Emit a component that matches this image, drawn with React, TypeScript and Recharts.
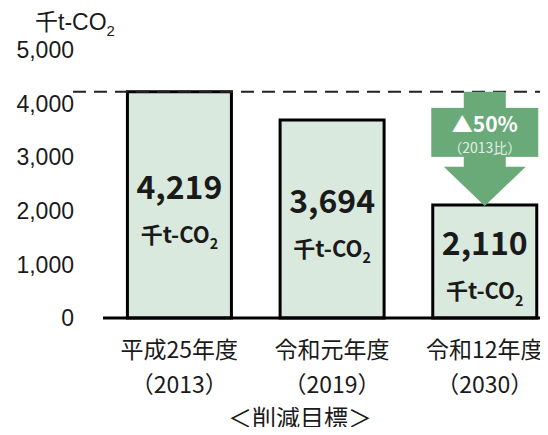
import { Bar, BarChart, LabelList, ReferenceLine, XAxis, YAxis } from 'recharts';

const CATEGORIES = ['平成25年度', '令和元年度', '令和12年度'];
const YEARS = ['（2013）', '（2019）', '（2030）'];
const EMISSIONS = [4219, 3694, 2110];
const Y_TICKS = [0, 1000, 2000, 3000, 4000, 5000];
const UNIT = '千t-CO';
const UNIT_SUB = '2';
const REDUCTION = '▲50%';
const REDUCTION_NOTE = '（2013比）';
const AXIS_TITLE = '＜削減目標＞';

const data = CATEGORIES.map((name, i) => ({ name, year: YEARS[i], value: EMISSIONS[i] }));

const INK = '#1a1a1a';
const BAR_FILL = '#d9e9dd';
const ARROW = '#6aaa79';
const JP = '"Noto Sans CJK JP", sans-serif';
const LATIN = '"Liberation Sans", "Noto Sans CJK JP", sans-serif';

function Unit({ x, y, size, bold, anchor }: { x: number; y: number; size: number; bold?: boolean; anchor?: string }) {
  return (
    <text x={x} y={y} textAnchor={anchor ?? 'middle'} fill={INK} fontFamily={bold ? JP : LATIN} fontWeight={bold ? 700 : 400} fontSize={size}>
      <tspan>{UNIT}</tspan>
      <tspan fontSize={size * 0.65} dy={size * 0.28}>{UNIT_SUB}</tspan>
    </text>
  );
}

function BarLabel(props: any) {
  const vb = props.viewBox ?? {};
  const x = props.x ?? vb.x;
  const y = props.y ?? vb.y;
  const width = props.width ?? vb.width;
  const height = props.height ?? vb.height;
  const value = Number(props.value);
  const index = props.index;
  const cx = x + width / 2;
  const mid = y + height / 2;

  let arrow = null;
  if (index === EMISSIONS.length - 1) {
    // arrow from the 2013 level down to the target bar
    const perUnit = height / value;
    const yRef = y + height - EMISSIONS[0] * perUnit;
    const stem = 21;
    const box = 53.5;
    const head = 41;
    const boxTop = yRef + 16;
    const boxBottom = yRef + 65;
    const headTop = yRef + 75;
    const tip = y + 1;
    const pts = [
      [cx - stem, yRef], [cx + stem, yRef], [cx + stem, headTop], [cx + head, headTop],
      [cx, tip], [cx - head, headTop], [cx - stem, headTop],
    ].map((p) => p.join(',')).join(' ');
    arrow = (
      <g>
        <polygon points={pts} fill={ARROW} />
        <rect x={cx - box} y={boxTop} width={box * 2} height={boxBottom - boxTop} fill={ARROW} />
        <text x={cx} y={boxTop + 24} textAnchor="middle" fill="#fff" fontFamily={JP} fontWeight={700} fontSize={21}>{REDUCTION}</text>
        <text x={cx} y={boxTop + 45} textAnchor="middle" fill="#e4efe6" fontFamily={JP} fontWeight={400} fontSize={14}>{REDUCTION_NOTE}</text>
      </g>
    );
  }

  return (
    <g>
      {arrow}
      <text x={cx} y={mid - 6} textAnchor="middle" fill={INK} fontFamily={JP} fontWeight={700} fontSize={32}>
        {value.toLocaleString('en-US')}
      </text>
      <Unit x={cx} y={mid + 38} size={22} bold />
    </g>
  );
}

function CategoryTick(props: any) {
  const { x, y, payload } = props;
  const i = CATEGORIES.indexOf(payload.value);
  return (
    <g>
      <text x={x} y={y + 38} textAnchor="middle" fill={INK} fontFamily={JP} fontSize={23}>{payload.value}</text>
      <text x={x} y={y + 73} textAnchor="middle" fill={INK} fontFamily={JP} fontSize={23}>{YEARS[i]}</text>
    </g>
  );
}

function BaseLine(props: any) {
  const { x1, y1, x2, y2 } = props;
  return <line x1={x1 - 30} y1={y1} x2={x2} y2={y2} stroke="#222" strokeWidth={2} strokeDasharray="13 8" />;
}

export default function App() {
  return (
    <div style={{ margin: -8, width: 548, height: 435, overflow: 'hidden', position: 'relative', background: '#fff' }}>
      <BarChart width={561} height={435} data={data} margin={{ top: 50, right: 0, bottom: 0, left: 0 }} barCategoryGap="16%">
        <YAxis
          width={103}
          domain={[0, 5000]}
          ticks={Y_TICKS}
          interval={0}
          tickFormatter={(v: number) => v.toLocaleString('en-US')}
          tick={{ fill: INK, fontSize: 23, fontFamily: LATIN }}
          tickSize={0}
          tickMargin={29}
          axisLine={false}
          label={{ content: (p: any) => <Unit x={35} y={(p.viewBox?.y ?? 50) - 20} size={23} anchor="start" /> }}
        />
        <XAxis
          dataKey="name"
          height={117}
          interval={0}
          tick={<CategoryTick />}
          tickSize={0}
          tickLine={false}
          axisLine={{ stroke: '#000', strokeWidth: 3 }}
          label={{
            content: (p: any) => (
              <text x={(p.viewBox?.x ?? 103) + 197} y={(p.viewBox?.y ?? 318) + 109} textAnchor="middle" fill={INK} fontFamily={JP} fontSize={24}>
                {AXIS_TITLE}
              </text>
            ),
          }}
        />
        <Bar dataKey="value" fill={BAR_FILL} stroke="#000" strokeWidth={3} isAnimationActive={false}>
          <LabelList dataKey="value" content={<BarLabel />} />
        </Bar>
        <ReferenceLine y={EMISSIONS[0]} ifOverflow="visible" shape={<BaseLine />} />
      </BarChart>
    </div>
  );
}
